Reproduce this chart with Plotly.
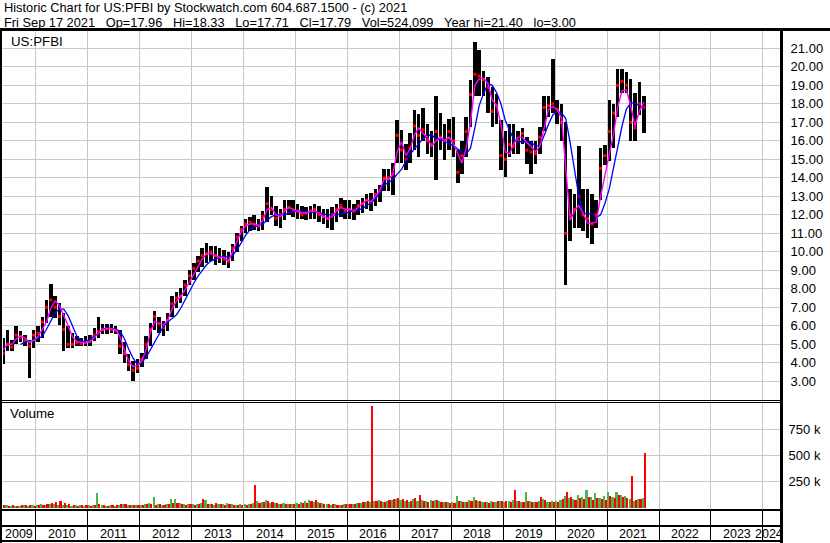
import plotly.graph_objects as go
import pandas as pd

# ---------------- data (monthly, May 2009 .. Sep 2021) ----------------
months = pd.date_range("2009-05-01", "2021-09-01", freq="MS")

high = [5.35, 5.8, 5.25, 6.0, 5.7, 5.5, 5.25, 5.8,
        6.0, 6.45, 7.4, 8.25, 7.6, 7.25, 6.7, 6.0, 5.6, 5.45, 5.35, 5.45,
        5.5, 5.9, 6.45, 6.1, 6.1, 6.1, 6.0, 5.8, 5.1, 4.45, 4.1, 4.2,
        4.55, 5.45, 6.15, 6.8, 6.5, 6.25, 6.7, 7.6, 7.85, 8.05, 8.5, 9.0,
        9.4, 9.8, 10.2, 10.5, 10.3, 10.3, 10.2, 10.1, 10.0, 10.4, 11.0, 11.4,
        11.8, 11.9, 12.0, 11.8, 12.2, 13.5, 13.0, 12.5, 12.3, 12.8, 12.8, 12.8,
        12.6, 12.5, 12.4, 12.5, 12.6, 12.5, 12.3, 12.3, 12.4, 12.6, 12.9, 12.8,
        12.8, 12.6, 12.8, 12.9, 13.1, 13.2, 13.4, 13.6, 14.5, 14.5, 14.8, 17.1,
        16.6, 15.85, 16.4, 17.65, 17.45, 17.75, 16.9, 16.55, 18.4, 17.5, 16.9, 17.2,
        17.3, 15.5, 16.0, 17.3, 19.3, 21.35, 20.9, 19.8, 19.45, 18.9, 18.55, 17.1,
        16.55, 16.9, 16.9, 16.55, 16.7, 16.2, 16.0, 16.0, 16.75, 18.4, 18.4, 20.4,
        18.2, 18.0, 17.0, 13.4, 13.1, 15.7, 13.4, 13.4, 13.1, 12.8, 15.6, 15.75,
        18.2, 18.0, 19.9, 19.9, 19.7, 19.35, 18.6, 19.2, 18.4]

low = [3.95, 4.65, 4.65, 5.0, 5.1, 4.9, 3.2, 4.8,
       5.1, 5.35, 6.15, 6.5, 6.4, 6.05, 4.65, 4.8, 4.8, 4.9, 4.9, 4.9,
       4.9, 5.2, 5.35, 5.55, 5.55, 5.6, 5.55, 4.45, 4.0, 3.55, 3.0, 3.45,
       3.8, 4.2, 4.9, 5.8, 5.6, 5.45, 5.7, 6.5, 6.95, 7.25, 7.6, 8.2,
       8.5, 8.9, 9.2, 9.4, 9.5, 9.3, 9.4, 9.3, 9.1, 9.5, 10.0, 10.6,
       11.0, 11.1, 11.2, 11.1, 11.2, 11.6, 12.0, 11.4, 11.3, 11.7, 12.0, 11.9,
       11.8, 11.8, 11.7, 11.8, 11.8, 11.6, 11.5, 11.3, 11.2, 11.6, 11.9, 11.8,
       11.8, 11.7, 12.0, 12.1, 12.3, 12.2, 12.5, 12.7, 13.3, 13.3, 13.05, 14.8,
       14.8, 14.4, 14.8, 15.5, 15.1, 16.0, 15.3, 15.1, 13.9, 15.5, 14.95, 15.5,
       15.1, 13.7, 14.2, 15.1, 16.75, 18.4, 18.4, 18.4, 17.5, 16.75, 16.9, 14.4,
       14.05, 15.1, 15.3, 15.3, 15.85, 14.75, 14.2, 14.75, 15.3, 16.55, 17.3, 17.5,
       16.9, 16.0, 8.2, 10.6, 11.3, 11.3, 11.1, 10.75, 10.4, 11.3, 12.8, 14.7,
       14.9, 15.6, 17.3, 18.6, 18.6, 16.0, 16.0, 17.4, 16.4]

close = [4.5, 5.0, 4.85, 5.5, 5.4, 5.2, 4.9, 5.5,
         5.6, 6.2, 7.0, 7.4, 7.0, 6.5, 5.8, 5.0, 5.0, 5.1, 5.05, 5.1,
         5.15, 5.5, 5.7, 5.8, 5.85, 5.8, 5.75, 4.9, 4.5, 3.9, 3.6, 3.7,
         4.2, 5.0, 5.8, 6.5, 6.1, 5.9, 6.3, 7.2, 7.5, 7.6, 8.2, 8.7,
         9.1, 9.5, 9.8, 9.9, 10.0, 9.8, 9.7, 9.6, 9.5, 10.2, 10.8, 11.2,
         11.5, 11.6, 11.5, 11.4, 11.9, 12.6, 12.3, 11.8, 12.0, 12.3, 12.4, 12.2,
         12.2, 12.0, 12.1, 12.2, 12.3, 12.0, 11.9, 11.8, 12.0, 12.3, 12.5, 12.2,
         12.3, 12.2, 12.5, 12.6, 12.8, 12.7, 13.1, 13.3, 14.0, 14.0, 14.2, 16.3,
         15.5, 15.0, 15.6, 16.8, 16.3, 16.6, 16.0, 15.8, 16.5, 16.2, 16.0, 16.5,
         16.0, 14.3, 15.2, 16.5, 18.5, 19.6, 19.5, 19.3, 18.9, 17.6, 17.9, 15.2,
         15.0, 15.8, 15.7, 16.0, 16.4, 15.5, 15.4, 15.3, 16.2, 17.8, 17.9, 18.0,
         17.7, 17.0, 11.0, 12.0, 12.3, 13.0, 12.0, 11.8, 11.5, 12.0, 14.5, 15.2,
         16.5, 17.5, 19.0, 19.2, 19.0, 17.0, 16.7, 18.0, 17.79]

ma_fast = [4.7, 5.0, 5.0, 5.3, 5.45, 5.35, 5.1, 5.2,
           5.4, 5.8, 6.2, 6.95, 7.35, 7.1, 6.6, 6.0, 5.4, 5.15, 5.1, 5.1,
           5.15, 5.35, 5.6, 5.8, 5.85, 5.85, 5.8, 5.4, 4.7, 4.1, 3.8, 3.85,
           4.1, 4.7, 5.65, 6.25, 6.15, 6.05, 6.3, 6.9, 7.35, 7.6, 7.95, 8.35,
           8.8, 9.2, 9.6, 9.9, 9.9, 9.8, 9.7, 9.7, 9.5, 10.0, 10.6, 11.1,
           11.4, 11.5, 11.5, 11.4, 11.7, 12.3, 12.4, 12.0, 11.9, 12.2, 12.4, 12.3,
           12.2, 12.1, 12.1, 12.2, 12.2, 12.1, 11.9, 11.8, 11.9, 12.2, 12.4, 12.3,
           12.3, 12.2, 12.4, 12.6, 12.8, 12.7, 13.0, 13.3, 13.95, 13.9, 14.2, 15.4,
           15.95, 15.2, 15.55, 16.3, 16.7, 16.4, 16.2, 15.7, 16.0, 16.2, 16.0, 16.2,
           15.85, 15.3, 14.8, 15.6, 17.0, 19.0, 19.35, 19.4, 19.1, 18.2, 17.9, 16.9,
           15.4, 15.3, 15.85, 16.2, 16.2, 15.9, 15.7, 15.4, 15.7, 16.7, 17.7, 17.85,
           17.7, 17.2, 14.5, 11.7, 12.2, 12.5, 12.1, 11.55, 11.55, 11.6, 13.0, 14.1,
           15.1, 16.4, 17.8, 18.7, 18.75, 17.9, 16.8, 17.6, 18.1]

ma_slow = [None, None, None, None, 5.0, 5.1, 5.15, 5.2,
           5.3, 5.45, 5.8, 6.3, 6.7, 6.9, 6.9, 6.55, 5.95, 5.45, 5.2, 5.15,
           5.25, 5.45, 5.65, 5.8, 5.9, 5.85, 5.82, 5.7, 5.3, 4.75, 4.25, 3.9,
           4.0, 4.3, 4.7, 5.15, 5.55, 5.95, 6.2, 6.4, 6.6, 6.95, 7.4, 7.9,
           8.3, 8.7, 9.0, 9.3, 9.5, 9.6, 9.7, 9.75, 9.7, 9.8, 10.1, 10.5,
           10.9, 11.2, 11.35, 11.4, 11.5, 11.7, 11.9, 12.0, 12.0, 12.0, 12.1, 12.2,
           12.2, 12.2, 12.15, 12.15, 12.15, 12.1, 12.05, 12.0, 12.0, 12.0, 12.05, 12.1,
           12.15, 12.2, 12.25, 12.35, 12.5, 12.65, 12.85, 13.2, 13.6, 13.75, 13.9, 14.2,
           14.45, 14.9, 15.25, 15.55, 15.85, 16.1, 16.25, 16.35, 16.05, 16.1, 15.95, 15.85,
           15.75, 15.55, 15.4, 15.3, 15.6, 16.7, 17.9, 18.55, 19.1, 19.0, 18.6, 18.0,
           17.1, 16.55, 16.1, 15.95, 15.95, 15.95, 15.9, 15.75, 15.7, 16.3, 16.9, 17.4,
           17.6, 17.5, 17.2, 15.9, 14.4, 13.0, 12.1, 12.05, 12.05, 11.85, 12.0, 12.6,
           13.4, 14.6, 15.7, 16.8, 17.7, 18.05, 18.05, 17.9, 17.7]

# volume (thousands of shares): up-day and down-day bars
vol_up = [60, 20, 15, 18, 15, 20, 18, 22,
          25, 30, 28, 35, 30, 25, 20, 22, 18, 20, 25, 18,
          20, 25, 140, 20, 18, 22, 15, 25, 30, 20, 25, 20,
          25, 35, 40, 100, 30, 25, 35, 80, 85, 40, 30, 35,
          30, 35, 40, 70, 30, 25, 30, 35, 40, 30, 25, 30,
          30, 35, 40, 60, 50, 70, 45, 40, 35, 40, 30, 35,
          40, 50, 60, 75, 55, 50, 40, 30, 25, 30, 25, 35,
          30, 35, 40, 45, 50, 55, 60, 70, 55, 60, 75, 80,
          70, 60, 55, 80, 65, 70, 60, 70, 75, 60, 55, 50,
          50, 115, 60, 55, 70, 100, 65, 55, 50, 60, 55, 60,
          55, 60, 70, 60, 50, 150, 60, 55, 60, 80, 55, 60,
          60, 70, 110, 90, 80, 120, 100, 165, 100, 140, 90, 110,
          145, 100, 150, 120, 110, 80, 60, 80, 90]

vol_dn = [20, 18, 20, 15, 22, 25, 20, 18,
          22, 28, 30, 40, 55, 60, 45, 30, 20, 18, 22, 20,
          18, 22, 30, 20, 15, 20, 25, 35, 30, 25, 22, 20,
          20, 30, 30, 25, 30, 25, 30, 40, 45, 30, 25, 30,
          25, 30, 80, 35, 30, 45, 30, 25, 30, 25, 20, 25,
          25, 30, 215, 40, 50, 60, 55, 40, 35, 30, 30, 35,
          35, 40, 45, 60, 70, 40, 35, 35, 30, 25, 25, 30,
          30, 35, 40, 50, 60, 975, 65, 60, 55, 70, 80, 90,
          80, 70, 60, 90, 125, 60, 50, 60, 70, 55, 50, 45,
          45, 60, 55, 50, 60, 70, 60, 50, 45, 55, 60, 65,
          60, 55, 170, 60, 55, 60, 50, 55, 100, 70, 50, 55,
          55, 80, 145, 100, 70, 90, 80, 100, 70, 90, 80, 75,
          110, 90, 120, 100, 95, 305, 70, 80, 525]

years = [str(y) for y in range(2009, 2025)]
price_ticks = list(range(3, 22))
vol_ticks = [250, 500, 750]

SP = "\u00a0\u00a0\u00a0"
header1 = "Historic Chart for US:PFBI by Stockwatch.com 604.687.1500 - (c) 2021"
header2 = SP.join(["Fri Sep 17 2021", "Op=17.96", "Hi=18.33", "Lo=17.71",
                   "Cl=17.79", "Vol=524,099", "Year hi=21.40", "lo=3.00"])

# ---------------- layout geometry (pixels) ----------------
W, H = 830, 543
L, R = 3, 781          # plot left / right
T, B = 31, 541         # plot top / bottom
PH = B - T


def py(p):             # pixel row -> paper y
    return (B - p) / PH


def px(p):             # pixel column -> paper x
    return (p - L) / (R - L)


DAY = 86400000
MONTH = 30.44 * DAY
mid = months + pd.Timedelta(days=15)
xr = ["2009-05-15", "2024-05-08"]
FONT = "Liberation Sans, Arial, sans-serif"
GRID = "#c8c8c8"

fig = go.Figure()

# price range bars
fig.add_trace(go.Bar(
    x=mid, y=[h - l for h, l in zip(high, low)], base=low,
    width=MONTH * 0.8, marker=dict(color="black", line=dict(width=0)),
    xaxis="x", yaxis="y", hoverinfo="skip"))
# closes
fig.add_trace(go.Scatter(
    x=mid, y=close, mode="markers",
    marker=dict(symbol="square", size=3, color="#ff0000", line=dict(width=0)),
    xaxis="x", yaxis="y", hoverinfo="skip"))
# moving averages
fig.add_trace(go.Scatter(x=mid, y=ma_slow, mode="lines",
                         line=dict(color="#0000ff", width=1.3),
                         xaxis="x", yaxis="y", connectgaps=False))
fig.add_trace(go.Scatter(x=mid, y=ma_fast, mode="lines",
                         line=dict(color="#ff00ff", width=1.4),
                         xaxis="x", yaxis="y"))

# volume
fig.add_trace(go.Bar(x=mid, y=[v * 1000 for v in vol_up], width=MONTH * 0.5,
                     offset=-MONTH * 0.5, marker=dict(color="#4db34d", line=dict(width=0)),
                     xaxis="x2", yaxis="y2"))
fig.add_trace(go.Bar(x=mid, y=[v * 1000 for v in vol_dn], width=MONTH * 0.5,
                     offset=0, marker=dict(color="#ff0000", line=dict(width=0)),
                     xaxis="x2", yaxis="y2"))

common_x = dict(type="date", range=xr, showgrid=True, gridcolor=GRID, gridwidth=1,
                dtick="M12", tick0="2010-01-01", showticklabels=False, ticks="",
                zeroline=False, showline=False, fixedrange=True)

fig.update_layout(
    width=W, height=H, margin=dict(l=L, r=W - R, t=T, b=H - B, pad=0),
    paper_bgcolor="white", plot_bgcolor="white", showlegend=False,
    barmode="overlay", bargap=0,
    font=dict(family=FONT, size=13, color="black"),
    xaxis=dict(common_x, domain=[0, 1], anchor="y"),
    xaxis2=dict(common_x, domain=[0, 1], anchor="y2", matches="x"),
    xaxis3=dict(common_x, domain=[0, 1], anchor="y3", gridcolor="black", matches="x"),
    yaxis=dict(domain=[py(400), 1], range=[1.99, 21.935], side="right",
               tickvals=price_ticks, ticktext=["%.2f" % v for v in price_ticks],
               showgrid=True, gridcolor=GRID, zeroline=False, showline=False,
               ticks="outside", ticklen=6, tickcolor="rgba(0,0,0,0)",
               tickfont=dict(size=13, color="black"), fixedrange=True),
    yaxis2=dict(domain=[py(509), py(402)], range=[-14400, 1014400], side="right",
                tickvals=[v * 1000 for v in vol_ticks], ticktext=["%d k" % v for v in vol_ticks],
                showgrid=True, gridcolor=GRID, zeroline=False, showline=False,
                ticks="outside", ticklen=4, tickcolor="rgba(0,0,0,0)",
                tickfont=dict(size=13, color="black"), fixedrange=True),
    yaxis3=dict(domain=[0, py(510)], range=[0, 1], showgrid=False, zeroline=False,
                showticklabels=False, showline=False, fixedrange=True),
)

shapes = []


def hline(yp, w, x0=0, x1=R):
    shapes.append(dict(type="line", xref="paper", yref="paper",
                       x0=px(x0), x1=px(x1), y0=py(yp), y1=py(yp),
                       line=dict(color="black", width=w)))


def vline(xp, w, y0=28, y1=H):
    shapes.append(dict(type="line", xref="paper", yref="paper",
                       x0=px(xp), x1=px(xp), y0=py(y0), y1=py(y1),
                       line=dict(color="black", width=w)))


hline(29.5, 3, 0, W)
hline(400.5, 1)
hline(402.5, 1)
hline(510, 2)
hline(526, 2)
hline(541, 2)
vline(1, 2)
vline(781.5, 3)
fig.update_layout(shapes=shapes)

ann = [
    dict(text=header1, x=px(2), y=py(8), size=12.8),
    dict(text=header2, x=px(2), y=py(22), size=12.8),
    dict(text="US:PFBI", x=px(9), y=py(41), size=13.3),
    dict(text="Volume", x=px(8), y=py(413), size=13.3),
]
anns = []
for a in ann:
    a = dict(a)
    fs = a.pop("size")
    anns.append(dict(a, xref="paper", yref="paper", xanchor="left", yanchor="middle",
                     showarrow=False, font=dict(size=fs, color="black")))
for yr in years:
    if yr == years[0]:
        a = dict(x=px(3), xref="paper", xanchor="left")
    elif yr == years[-1]:
        a = dict(x=px(785), xref="paper", xanchor="right")
    else:
        a = dict(x=yr + "-01-01", xref="x3", xanchor="left", xshift=10)
    anns.append(dict(a, text=yr, yref="paper", y=py(534), yanchor="middle",
                     showarrow=False, font=dict(size=12.5, color="black")))
fig.update_layout(annotations=anns)

fig.write_html("out.html", config={"displayModeBar": False},
               post_script="document.body.style.margin='0';document.body.style.overflow='hidden';")
